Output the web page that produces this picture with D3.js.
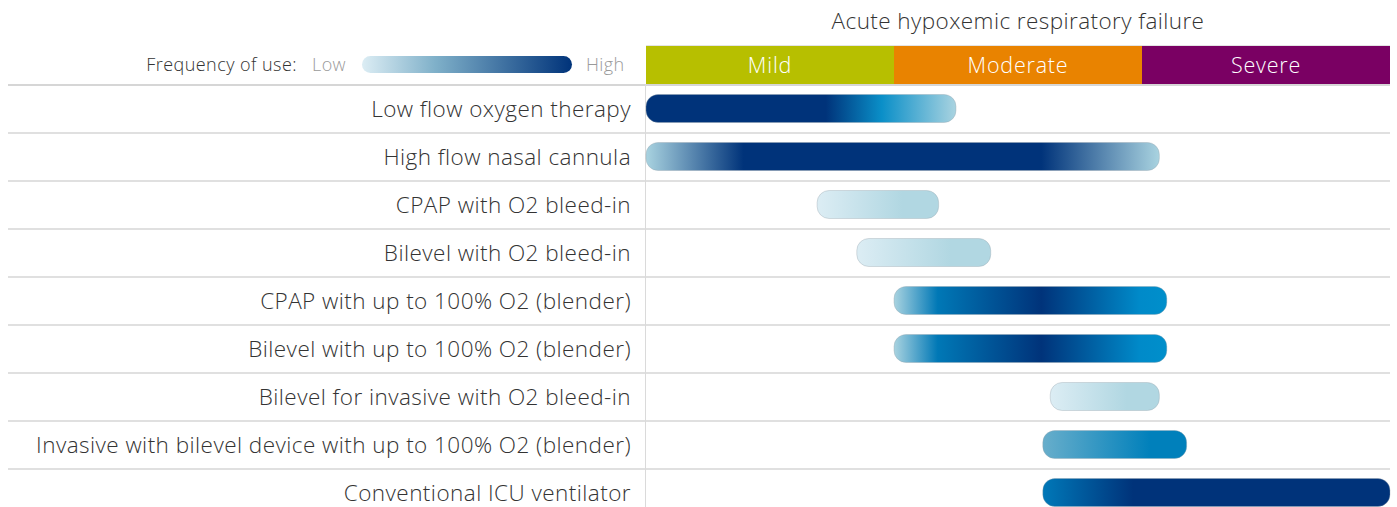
<!DOCTYPE html>
<html><head><meta charset="utf-8">
<script src="https://cdn.jsdelivr.net/npm/d3@7"></script>
<style>
html,body{margin:0;padding:0;background:#fff;}
svg{display:block;font-family:"Open Sans",sans-serif;font-weight:300;}
</style></head><body>
<svg id="c" width="1397" height="507"></svg>
<script>
const title = "Acute hypoxemic respiratory failure";
const severities = ["Mild","Moderate","Severe"];
const severityColors = ["#b7bf00","#e98300","#7a0063"];
const therapies = [
  "Low flow oxygen therapy",
  "High flow nasal cannula",
  "CPAP with O2 bleed-in",
  "Bilevel with O2 bleed-in",
  "CPAP with up to 100% O2 (blender)",
  "Bilevel with up to 100% O2 (blender)",
  "Bilevel for invasive with O2 bleed-in",
  "Invasive with bilevel device with up to 100% O2 (blender)",
  "Conventional ICU ventilator"
];
// range on severity scale (0 = start of Mild, 3 = end of Severe)
const rangeStart = [0.00, 0.00, 0.69, 0.85, 1.00, 1.00, 1.63, 1.60, 1.60];
const rangeEnd   = [1.25, 2.07, 1.18, 1.39, 2.10, 2.10, 2.07, 2.18, 3.00];
// frequency-of-use gradient stops per bar: [offset, colour]
const freqStops = [
  [[0,"#00337a"],[0.58,"#00337a"],[0.76,"#0a8fc8"],[1,"#a9d3e0"]],
  [[0,"#a9d3e0"],[0.19,"#00337a"],[0.77,"#00337a"],[1,"#a9d3e0"]],
  [[0,"#dcedf4"],[0.70,"#b1d7e2"],[1,"#b1d7e2"]],
  [[0,"#dcedf4"],[0.70,"#b1d7e2"],[1,"#b1d7e2"]],
  [[0,"#a9d3e0"],[0.16,"#0078b6"],[0.54,"#00337a"],[0.90,"#008ac9"],[1,"#008fcb"]],
  [[0,"#a9d3e0"],[0.16,"#0078b6"],[0.54,"#00337a"],[0.90,"#008ac9"],[1,"#008fcb"]],
  [[0,"#dcedf4"],[0.70,"#b1d7e2"],[1,"#b1d7e2"]],
  [[0,"#68aecb"],[0.75,"#0080bb"],[1,"#0080bb"]],
  [[0,"#0078b8"],[0.26,"#00337a"],[1,"#00337a"]]
];
const legendLabel = "Frequency of use:";
const legendLow = "Low", legendHigh = "High";
const legendStops = [[0,"#dcedf4"],[0.35,"#7fb0c9"],[1,"#00337a"]];

const svg = d3.select("#c");
const defs = svg.append("defs");
const plotL = 646, plotR = 1390, lineL = 8;
const x = d3.scaleLinear().domain([0,3]).range([plotL, plotR]);
const y = d3.scaleBand().domain(therapies).range([85, 517]).padding(0);
const textColor = "#333333";

// title
svg.append("text").attr("x", (plotL+plotR)/2).attr("y", 29)
  .attr("text-anchor","middle").attr("font-size",22.5).attr("letter-spacing",0.42)
  .attr("fill",textColor).text(title);

// severity band
const sx = d3.scaleBand().domain(severities).range([plotL, plotR]);
svg.selectAll("rect.sev").data(severities).join("rect")
  .attr("x", d => sx(d)).attr("y", 46).attr("width", sx.bandwidth()).attr("height", 38)
  .attr("fill", (d,i) => severityColors[i]);
svg.selectAll("text.sev").data(severities).join("text")
  .attr("x", d => sx(d) + sx.bandwidth()/2).attr("y", 72.5)
  .attr("text-anchor","middle").attr("font-size",21.5).attr("letter-spacing",0.8)
  .attr("fill","#fff").text(d => d);
svg.append("line").attr("x1",plotL).attr("x2",plotR).attr("y1",45.5).attr("y2",45.5)
  .attr("stroke","#e4e4e4").attr("stroke-width",1);

// legend
const lg = defs.append("linearGradient").attr("id","lg");
legendStops.forEach(s => lg.append("stop").attr("offset", s[0]).attr("stop-color", s[1]));
svg.append("text").attr("x",297).attr("y",71).attr("text-anchor","end")
  .attr("font-size",18).attr("letter-spacing",0.45).attr("fill",textColor).text(legendLabel);
svg.append("text").attr("x",312).attr("y",71).attr("font-size",18).attr("letter-spacing",0.4)
  .attr("fill","#9a9a9a").text(legendLow);
svg.append("rect").attr("x",362).attr("y",56).attr("width",210).attr("height",17)
  .attr("rx",8.5).attr("fill","url(#lg)");
svg.append("text").attr("x",586).attr("y",71).attr("font-size",18).attr("letter-spacing",0.4)
  .attr("fill","#9a9a9a").text(legendHigh);

// grid lines
const rowLines = [85].concat(therapies.slice(1).map(t => y(t)));
svg.selectAll("line.row").data(rowLines).join("line")
  .attr("x1", lineL).attr("x2", plotR)
  .attr("y1", d => d).attr("y2", d => d)
  .attr("stroke","#d6d6d6").attr("stroke-width", (d,i) => i===0 ? 2 : 1.6);
svg.append("line").attr("x1",plotL-0.5).attr("x2",plotL-0.5).attr("y1",84).attr("y2",507)
  .attr("stroke","#dadada").attr("stroke-width",1);

// labels
svg.selectAll("text.lab").data(therapies).join("text")
  .attr("x", 631).attr("y", d => y(d) + 31.5)
  .attr("text-anchor","end").attr("font-size",22.5).attr("letter-spacing",0.45)
  .attr("fill",textColor).text(d => d);

// bars
therapies.forEach((t,i) => {
  const g = defs.append("linearGradient").attr("id","g"+i);
  freqStops[i].forEach(s => g.append("stop").attr("offset", s[0]).attr("stop-color", s[1]));
});
const barH = 28;
svg.selectAll("rect.bar").data(therapies).join("rect")
  .attr("x", (d,i) => x(rangeStart[i]))
  .attr("y", d => y(d) + 24 - barH/2 - 0.5)
  .attr("width", (d,i) => x(rangeEnd[i]) - x(rangeStart[i]))
  .attr("height", barH).attr("rx", 12)
  .attr("fill", (d,i) => `url(#g${i})`)
  .attr("stroke", "rgba(150,160,170,0.35)").attr("stroke-width", 1);
</script>
</body></html>
